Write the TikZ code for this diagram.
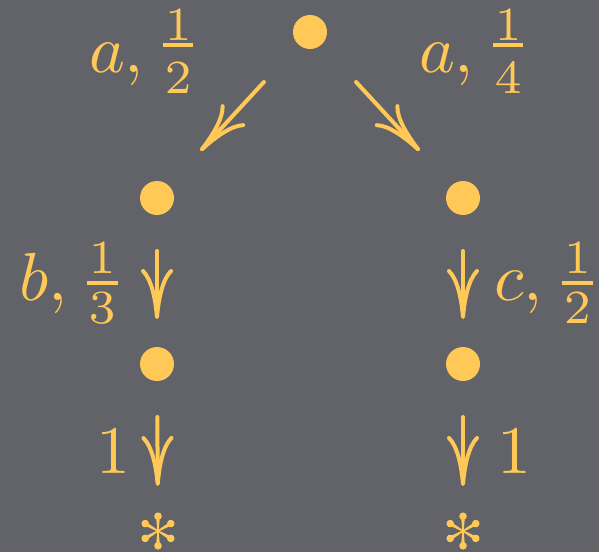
\documentclass[tikz,border=0pt]{standalone}
\usetikzlibrary{arrows.meta}
\definecolor{bg}{HTML}{616368}
\definecolor{gold}{HTML}{FFC857}
% #1 numerator, #2 denominator, #3 numerator baseline, #4 bar centre, #5 denominator baseline, #6 bar width
\newcommand\myfrac[6]{\mbox{\kern1.2pt%
  \rlap{\raisebox{#4}{\rule[-0.25pt]{#6}{0.5pt}}}%
  \rlap{\raisebox{#3}{\makebox[#6]{$\scriptstyle #1$}}}%
  \rlap{\raisebox{#5}{\makebox[#6]{$\scriptstyle #2$}}}%
  \kern#6\kern1.2pt}}
\begin{document}
\begin{tikzpicture}[x=1pt,y=-1pt,
  dot/.style={circle,fill=gold,minimum size=34pt,inner sep=0pt,outer sep=0pt},
  starnode/.style={circle,minimum size=34pt,inner sep=0pt,outer sep=0pt},
  lab/.style={text=gold,inner sep=0pt,outer sep=0pt,font=\fontsize{10}{12}\selectfont,scale=6.8,transform shape},
  arr/.style={draw=gold,line width=4pt,line cap=round,
    -{Computer Modern Rightarrow[length=50pt,width=32pt,line width=4pt]}},
  vert/.style={arr,shorten <=36pt,shorten >=28pt},
  diag/.style={arr,shorten <=51pt,shorten >=47pt}
]
\fill[bg] (0,0) rectangle (599,552);
\useasboundingbox (0,0) rectangle (599,552);

\node[dot] (t) at (310,32) {};
\node[dot] (l1) at (157,198) {};
\node[dot] (r1) at (463,198) {};
\node[dot] (l2) at (157,364) {};
\node[dot] (r2) at (463,364) {};
\node[starnode] (l3) at (158,531) {};
\node[starnode] (r3) at (463,531) {};

\foreach \s in {l3,r3}{
  \foreach \a in {90,30,-30,-90,-150,150}{
    \fill[gold,shift={(\s.center)},rotate=\a]
      (0,-0.7) -- (12,-1.7) -- (12,1.7) -- (0,0.7) -- cycle;
    \fill[gold,shift={(\s.center)},rotate=\a] (14.8,0) circle (3.8pt);
  }
  \fill[gold] (\s.center) circle (2.2pt);
}

\draw[diag] (t) -- (l1);
\draw[diag] (t) -- (r1);
\draw[vert] (l1) -- (l2);
\draw[vert] (r1) -- (r2);
\draw[vert] (l2) -- (l3);
\draw[vert] (r2) -- (r3);

\node[lab,anchor=base west] (la) at (89,72) {$a,\myfrac{1}{2}{4.7pt}{4.0pt}{-3.1pt}{4.4pt}$};
\node[lab,anchor=base west] (ra) at (419,72) {$a,\myfrac{1}{4}{4.7pt}{4.0pt}{-3.1pt}{4.4pt}$};
\node[lab,anchor=base west] (lb) at (19,300) {$b,\myfrac{1}{3}{3.94pt}{2.5pt}{-3.44pt}{4.6pt}$};
\node[lab,anchor=base west] (rc) at (494,300) {$c,\myfrac{1}{2}{3.94pt}{2.5pt}{-3.44pt}{4.6pt}$};
\node[lab,anchor=base west] (l1lab) at (96,473) {$1$};
\node[lab,anchor=base west] (r1lab) at (497,473) {$1$};
\end{tikzpicture}
\end{document}
